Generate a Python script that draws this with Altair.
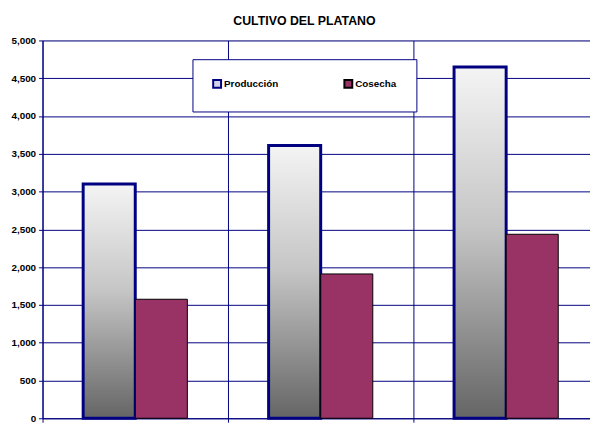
import altair as alt
import pandas as pd

categories = ["Periodo 1", "Periodo 2", "Periodo 3"]
series = ["Producción", "Cosecha"]
produccion = [3100, 3610, 4650]
cosecha = [1575, 1910, 2435]
y_ticks = list(range(0, 5001, 500))

rows = []
for c, p, k in zip(categories, produccion, cosecha):
    rows.append({"categoria": c, "serie": series[0], "valor": p})
    rows.append({"categoria": c, "serie": series[1], "valor": k})
df = pd.DataFrame(rows)

FONT = "Liberation Sans"
NAVY = "#000080"

grad = {
    "gradient": "linear",
    "x1": 0, "x2": 0, "y1": 0, "y2": 1,
    "stops": [
        {"offset": 0, "color": "#f4f4f4"},
        {"offset": 0.45, "color": "#c6c6c6"},
        {"offset": 1, "color": "#656565"},
    ],
}

legend_spec = dict(
    title=None, orient="none", legendX=152, legendY=19, direction="horizontal",
    fillColor="white", strokeColor=NAVY, padding=20,
    symbolType="square", symbolSize=64, symbolStrokeWidth=2,
    labelFont=FONT, labelFontWeight="bold", labelFontSize=10, labelColor="black",
    columnPadding=62, labelOffset=2,
)

test = "datum.serie === 'Producción'"

bars = alt.Chart(df).mark_bar().encode(
    x=alt.X("categoria:N", sort=categories,
            scale=alt.Scale(domain=categories, range=[0, 564], paddingInner=0, paddingOuter=0),
            axis=alt.Axis(title=None, labels=False, bandPosition=0, grid=True,
                          gridColor=NAVY, gridOpacity=1, gridWidth=1,
                          tickColor=NAVY, tickSize=4, domainColor=NAVY)),
    xOffset=alt.XOffset("serie:N", sort=series,
                        scale=alt.Scale(domain=series, paddingInner=0, paddingOuter=0.78)),
    y=alt.Y("valor:Q", scale=alt.Scale(domain=[0, 5000], nice=False),
            axis=alt.Axis(values=y_ticks, format=",.0f", title=None,
                          labelFont=FONT, labelFontWeight="bold", labelFontSize=10,
                          labelColor="black", labelPadding=3,
                          tickColor=NAVY, tickSize=4, domainColor=NAVY,
                          gridColor=NAVY, gridOpacity=1, gridWidth=1)),
    fill=alt.Fill("serie:N", sort=series,
                  scale=alt.Scale(domain=series, range=["#d4d4e4", "#993366"]),
                  legend=alt.Legend(**legend_spec),
                  condition={"test": test, "value": grad}),
    stroke=alt.Stroke("serie:N", sort=series,
                      scale=alt.Scale(domain=series, range=[NAVY, "#000000"]),
                      legend=alt.Legend(**legend_spec)),
    strokeWidth=alt.StrokeWidth(value=1, condition={"test": test, "value": 3}),
)

chart = bars.properties(
    width=555, height=383,
    autosize=alt.AutoSizeParams(type="none"),
    padding={"left": 35, "top": 30, "right": 0, "bottom": 9},
    title=alt.Title("CULTIVO DEL PLATANO", font=FONT, fontSize=12.5, fontWeight="bold",
                    color="black", dx=-12, offset=8),
).configure_view(fill="#c0c0c0", stroke=None).configure(background="white")

chart.save("out.html", embed_options={"renderer": "svg", "actions": False})
